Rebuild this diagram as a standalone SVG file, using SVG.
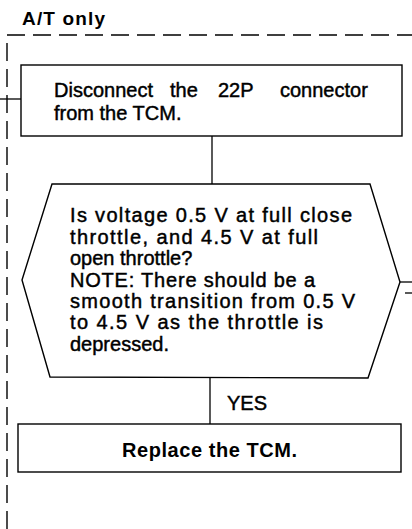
<svg xmlns="http://www.w3.org/2000/svg" width="412" height="529" viewBox="0 0 412 529">
<style>
  .t{font-family:"Liberation Sans",Arial,sans-serif;font-size:20px;fill:#000;stroke:#000;stroke-width:0.45}
  .b{font-family:"Liberation Sans",Arial,sans-serif;font-weight:bold;fill:#000}
  .shape{fill:#fff;stroke:#000;stroke-width:1.4}
  .ln{fill:none;stroke:#000;stroke-width:1.3}
  .dash{fill:none;stroke:#000;stroke-width:1.4;stroke-dasharray:18 8}
</style>
<rect width="412" height="529" fill="#fff"/>
<g id="frame">
  <text class="b" x="22" y="25" font-size="19" textLength="83" lengthAdjust="spacing">A/T only</text>
  <path class="dash" d="M7,529 V35 H412"/>
</g>
<g id="connectors">
  <line class="ln" x1="0" y1="99" x2="21" y2="99"/>
  <line class="ln" x1="212" y1="136" x2="212" y2="184"/>
  <line class="ln" x1="210" y1="378" x2="210" y2="424"/>
  <line class="ln" x1="400" y1="282" x2="412" y2="282"/>
  <line class="ln" x1="405" y1="293" x2="412" y2="293"/>
  <text class="t" x="227" y="410" font-size="19.5">YES</text>
</g>
<g id="disconnect">
  <rect class="shape" x="21" y="65" width="381" height="71"/>
  <text class="t" y="97"><tspan x="54">Disconnect</tspan><tspan x="170">the</tspan><tspan x="218">22P</tspan><tspan x="280">connector</tspan></text>
  <text class="t" x="54" y="120">from the TCM.</text>
</g>
<g id="decision">
  <polygon class="shape" points="52,184 370,184 400,282 368,378 50,377 22,280"/>
  <text class="t" x="70" y="222" textLength="282" lengthAdjust="spacing">Is voltage 0.5 V at full close</text>
  <text class="t" x="70" y="243.5" textLength="248" lengthAdjust="spacing">throttle, and 4.5 V at full</text>
  <text class="t" x="70" y="265">open throttle?</text>
  <text class="t" x="70" y="286.5" textLength="245" lengthAdjust="spacing">NOTE: There should be a</text>
  <text class="t" x="70" y="308" textLength="285" lengthAdjust="spacing">smooth transition from 0.5 V</text>
  <text class="t" x="70" y="329" textLength="253" lengthAdjust="spacing">to 4.5 V as the throttle is</text>
  <text class="t" x="70" y="350.5">depressed.</text>
</g>
<g id="replace">
  <rect class="shape" x="18" y="424" width="383" height="48"/>
  <text class="b" x="122" y="457" font-size="20" textLength="175" lengthAdjust="spacing">Replace the TCM.</text>
</g>
</svg>
